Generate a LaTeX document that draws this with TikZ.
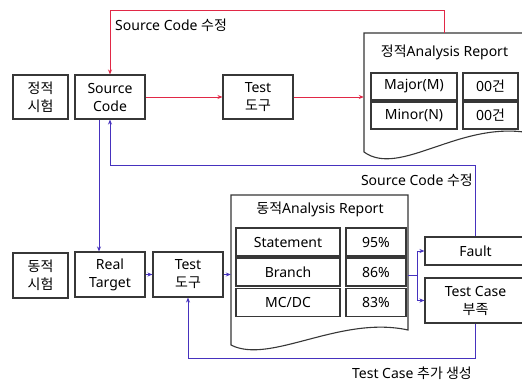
\documentclass[tikz,border=0pt]{standalone}
\usepackage{fontspec}
\setmainfont{Noto Sans}
\newfontfamily\kr{Noto Sans CJK KR}
\usetikzlibrary{arrows.meta}
\definecolor{lred}{RGB}{225,40,70}
\definecolor{lblue}{RGB}{70,50,190}
\definecolor{bord}{RGB}{55,55,55}
\begin{document}
\begin{tikzpicture}[x=1pt,y=-1pt, font=\fontsize{14}{18}\selectfont,
 box/.style={draw=bord, line width=1.1pt, align=center, inner sep=0pt, fill=white},
 ra/.style={draw=lred, line width=0.9pt, -{Stealth[length=5pt,width=4pt]}},
 ba/.style={draw=lblue, line width=0.9pt, -{Stealth[length=5pt,width=4pt]}},
 bl/.style={draw=lblue, line width=0.9pt},
 doc/.style={draw=bord, line width=1.1pt, fill=white},
 lbl/.style={inner sep=0pt}]
\clip (0,0) rectangle (522,383);
\fill[white] (0,0) rectangle (522,383);

% static row
\node[box, minimum width=55pt, minimum height=44pt] (s1) at (40.5,97) {{\kr 정적}\\{\kr 시험}};
\node[box, minimum width=70pt, minimum height=44pt] (sc) at (110,97) {Source\\Code};
\node[box, minimum width=70pt, minimum height=44pt] (t1) at (258,97) {Test\\{\kr 도구}};

% static report
\draw[doc] (364,152) -- (364,33) -- (530,33) -- (530,133) .. controls (460,120) and (400,178) .. (364,152) -- cycle;
\node[minimum width=166pt, minimum height=119pt, inner sep=0pt] (r1) at (447,92.5) {};
\coordinate (r1top) at (444,33);
\node[lbl] (r1t) at (444.5,52) {{\kr 정적}Analysis Report};
\node[box, minimum width=86pt, minimum height=27pt] (c11) at (414,86.5) {Major(M)};
\node[box, minimum width=55pt, minimum height=27pt] (c12) at (490.5,86.5) {00{\kr 건}};
\node[box, minimum width=86pt, minimum height=27pt] (c21) at (414,115.5) {Minor(N)};
\node[box, minimum width=55pt, minimum height=27pt] (c22) at (490.5,115.5) {00{\kr 건}};

% dynamic row
\node[box, minimum width=55pt, minimum height=45pt] (d1) at (40.5,275.5) {{\kr 동적}\\{\kr 시험}};
\node[box, minimum width=70pt, minimum height=45pt] (rt) at (110,274.5) {Real\\Target};
\node[box, minimum width=70pt, minimum height=45pt] (t2) at (188,274.5) {Test\\{\kr 도구}};

% dynamic report
\draw[doc] (231,345) -- (231,195) -- (408,195) -- (408,330) .. controls (340,315) and (270,365) .. (231,345) -- cycle;
\node[minimum width=177pt, minimum height=150pt, inner sep=0pt] (r2) at (319.5,270) {};
\node[lbl] (r2t) at (320,209) {{\kr 동적}Analysis Report};
\node[box, minimum width=104pt, minimum height=28pt] (e11) at (288,242) {Statement};
\node[box, minimum width=60pt, minimum height=28pt] (e12) at (376,242) {95\%};
\node[box, minimum width=104pt, minimum height=28pt] (e21) at (288,272) {Branch};
\node[box, minimum width=60pt, minimum height=28pt] (e22) at (376,272) {86\%};
\node[box, minimum width=104pt, minimum height=28pt] (e31) at (288,302.5) {MC/DC};
\node[box, minimum width=60pt, minimum height=28pt] (e32) at (376,302.5) {83\%};

\node[box, minimum width=101pt, minimum height=28pt] (fault) at (475.5,251) {Fault};
\node[box, minimum width=101pt, minimum height=45pt] (tc) at (475.5,300.5) {Test Case\\{\kr 부족}};

% red connectors
\draw[ra] (sc.east) -- (t1.west);
\draw[ra] (t1.east) -- (t1.east -| r1.west);
\draw[ra] (r1top) -- (444,10) -| (sc.north);
\node[lbl, anchor=west] (lab1) at (115,25) {Source Code {\kr 수정}};

% blue connectors
\coordinate (h1) at (300,165);
\coordinate (h2) at (300,358);
\coordinate (j) at (417,275);
\draw[ba] ([xshift=-11pt]sc.south) -- ([xshift=-11pt]rt.north);
\draw[ba] (fault.north) -- (fault.north |- h1) -| (sc.south);
\node[lbl, anchor=east] (lab2) at (473,180) {Source Code {\kr 수정}};
\draw[ba] (rt.east) -- (t2.west);
\draw[ba] (t2.east) -- (t2.east -| r2.west);
\draw[bl] (j -| r2.east) -- (j);
\draw[ba] (j) |- (fault.west);
\draw[ba] (j) |- (tc.west);
\draw[ba] (tc.south) -- (tc.south |- h2) -| (t2.south);
\node[lbl, anchor=east] (lab3) at (472,373) {Test Case {\kr 추가 생성}};
\end{tikzpicture}
\end{document}
